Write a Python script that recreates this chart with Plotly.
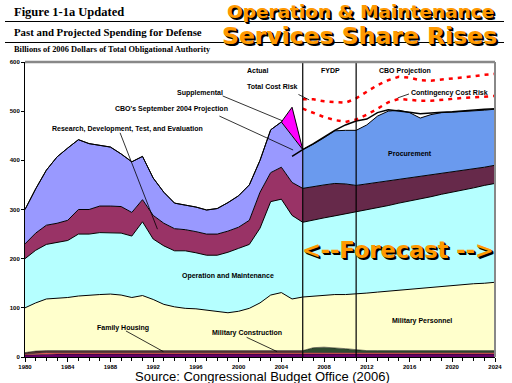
import plotly.graph_objects as go

years = list(range(1980, 2025))

other = [4, 5] + [6] * 43
family_housing = [2] + [3] * 44
military_construction = [3, 4, 4, 4, 4, 4, 4, 4, 4, 4,
                         4, 4, 4, 4, 4, 4, 4, 4, 4, 4,
                         4, 4, 4, 4, 4, 4, 4, 10, 11, 10,
                         8, 6, 4, 4, 4, 4, 4, 4, 4, 4,
                         4, 4, 4, 4, 4]
military_personnel = [91, 98, 105, 106, 108, 111, 113, 114, 115, 113,
                      108, 112, 104, 94, 89, 86, 85, 82, 79, 77,
                      80, 86, 97, 113, 118, 105, 109, 105, 106, 108,
                      110, 113, 117, 119, 121, 123, 125, 126, 128, 130,
                      132, 134, 136, 137, 139]
operation_maintenance = [100, 107, 111, 114, 116, 126, 124, 126, 125, 126,
                         125, 150, 123, 119, 114, 117, 114, 112, 115, 123,
                         128, 130, 152, 190, 190, 170, 152, 155, 157, 160,
                         164, 167, 169, 172, 174, 177, 179, 183, 185, 188,
                         190, 193, 195, 199, 201]
rdte = [30, 35, 39, 39, 41, 50, 50, 54, 54, 54,
        48, 45, 48, 46, 45, 43, 43, 43, 43, 43,
        43, 49, 73, 59, 65, 67, 69, 68, 67, 66,
        61, 54, 53, 51, 50, 48, 47, 45, 44, 42,
        41, 39, 38, 37, 37]
procurement = [70, 90, 112, 135, 147, 142, 134, 123, 120, 107,
               103, 88, 76, 63, 52, 50, 50, 49, 52, 58,
               64, 72, 65, 87, 92, 95, 79, 86, 96, 107,
               109, 112, 120, 135, 142, 141, 133, 119, 123, 124,
               122, 120, 118, 116, 114]

supp_years = [2004, 2005, 2006]
supplemental = [0, 58, 0]

cbo2004_years = list(range(2005, 2025))
cbo2004 = [408, 422, 434, 447, 461, 472, 480, 484, 497, 503,
           501, 498, 495, 497, 498, 499, 501, 502, 504, 505]

risk_years = list(range(2006, 2025))
total_cost_risk = [524, 524, 520, 518, 517, 526, 539, 553, 563, 570,
                   568, 563, 562, 564, 566, 569, 571, 574, 576]
contingency_cost_risk = [505, 497, 488, 482, 478, 483, 493, 505, 518, 525,
                         523, 521, 521, 523, 526, 527, 528, 530, 531]

x_ticks = list(range(1980, 2025, 4))
y_ticks = [0, 100, 200, 300, 400, 500, 600]

split = years.index(2006)

layers = [
    ("Other", other, "#660066", "#660066", 0.5),
    ("Family Housing", family_housing, "#FF6666", "#FF6666", 0.5),
    ("Military Construction", military_construction, "#553333", "#2f4a2f", 0.5),
    ("Military Personnel", military_personnel, "#FFFFCC", "#FFFFCC", 1),
    ("Operation and Maintenance", operation_maintenance, "#B5FFFF", "#B5FFFF", 1),
    ("RDT&E", rdte, "#993366", "#66294A", 1),
    ("Procurement", procurement, "#9999FF", "#6A9AEE", 1),
]

fig = go.Figure()
for grp, sl in (("pre", slice(0, split + 1)), ("post", slice(split, None))):
    for name, vals, c_pre, c_post, lw in layers:
        col = c_pre if grp == "pre" else c_post
        fig.add_trace(go.Scatter(
            x=years[sl], y=vals[sl], stackgroup=grp, mode="lines",
            line=dict(color="black", width=lw), fillcolor=col,
            name=name, showlegend=False, hoverinfo="skip"))
    if grp == "pre":
        fig.add_trace(go.Scatter(
            x=supp_years, y=supplemental, stackgroup=grp, mode="lines",
            line=dict(color="black", width=1), fillcolor="#FF00FF",
            name="Supplemental", showlegend=False))

fig.add_trace(go.Scatter(x=cbo2004_years, y=cbo2004, mode="lines",
                         line=dict(color="black", width=1.5), showlegend=False))
fig.add_trace(go.Scatter(x=risk_years, y=total_cost_risk, mode="lines",
                         line=dict(color="#FF0000", width=2.5, dash="4px,5px"), showlegend=False))
fig.add_trace(go.Scatter(x=risk_years, y=contingency_cost_risk, mode="lines",
                         line=dict(color="#FF0000", width=2.5, dash="4px,5px"), showlegend=False))

def PX(p):
    return (p - 25) / 470.0

def PY(p):
    return (357 - p) / 295.0

shapes = []
for xv in (2006, 2011):
    shapes.append(dict(type="line", xref="x", yref="paper", x0=xv, x1=xv, y0=0, y1=1,
                       line=dict(color="black", width=1.2), layer="above"))
shapes.append(dict(type="line", xref="paper", yref="paper", x0=0, x1=1, y0=1, y1=1,
                   line=dict(color="#888888", width=2.5), layer="above"))
shapes.append(dict(type="line", xref="paper", yref="paper", x0=1, x1=1, y0=0, y1=1,
                   line=dict(color="#888888", width=2), layer="above"))
for yy in (21.5, 42.5):
    shapes.append(dict(type="line", xref="paper", yref="paper", x0=PX(5), x1=PX(504),
                       y0=PY(yy), y1=PY(yy), line=dict(color="black", width=1.2)))
leaders = [
    (1998.5, 531, 2004.15, 480),
    (2005.6, 534, 2006.6, 523),
    (1998.2, 490, 2005.1, 421),
    (1988.9, 456, 1992.4, 260),
    (2014.9, 527, 2015.95, 535),
    (1989.45, 53, 1992.95, 11),
    (2000.75, 40, 2003.6, 11),
]
for x0, y0, x1, y1 in leaders:
    shapes.append(dict(type="line", xref="x", yref="y", x0=x0, y0=y0, x1=x1, y1=y1,
                       line=dict(color="black", width=0.8), layer="above"))

lab_font = dict(family="Liberation Sans, Arial", size=7, color="black")
labels = [
    ("Actual", 2001.8, 582),
    ("FYDP", 2008.6, 582),
    ("CBO Projection", 2015.6, 582),
    ("Total Cost Risk", 2003.2, 551),
    ("Supplemental", 1996.4, 537),
    ("CBO's September 2004 Projection", 1993.7, 504),
    ("Research, Development, Test, and Evaluation", 1989.6, 464),
    ("Contingency Cost Risk", 2019.7, 536),
    ("Procurement", 2016.0, 414),
    ("Operation and Maintenance", 1999.0, 165),
    ("Family Housing", 1989.2, 60),
    ("Military Construction", 2000.8, 49),
    ("Military Personnel", 2017.2, 74),
]
annotations = []
for t, xv, yv in labels:
    annotations.append(dict(text="<b>" + t + "</b>", x=xv, y=yv, xref="x", yref="y",
                            showarrow=False, font=lab_font, xanchor="center", yanchor="middle"))

serif = "Liberation Serif, Times New Roman"
annotations += [
    dict(text="<b>Figure 1-1a Updated</b>", x=PX(12), y=PY(12), xref="paper", yref="paper",
         showarrow=False, xanchor="left", yanchor="middle", font=dict(family=serif, size=12.5, color="black")),
    dict(text="<b>Past and Projected Spending for Defense</b>", x=PX(12), y=PY(32), xref="paper", yref="paper",
         showarrow=False, xanchor="left", yanchor="middle", font=dict(family=serif, size=10.8, color="black")),
    dict(text="<b>Billions of 2006 Dollars of Total Obligational Authority</b>", x=PX(12), y=PY(50),
         xref="paper", yref="paper", showarrow=False, xanchor="left", yanchor="middle",
         font=dict(family=serif, size=8.4, color="black")),
    dict(text="Source: Congressional Budget Office (2006)", x=PX(262), y=PY(376), xref="paper", yref="paper",
         showarrow=False, xanchor="center", yanchor="middle",
         font=dict(family="Liberation Sans, Arial", size=13, color="black")),
]

def shadow_text(text, cx, cy, size):
    out = []
    for dx, dy, col in ((2, -2, "black"), (1, -1, "black"), (0, 0, "#FF9900")):
        out.append(dict(text="<b>" + text + "</b>", x=PX(cx), y=PY(cy), xref="paper", yref="paper",
                        showarrow=False, xanchor="center", yanchor="middle", xshift=dx, yshift=dy,
                        font=dict(family="DejaVu Sans", size=size, color=col)))
    return out

annotations += shadow_text("Operation &amp; Maintenance", 360, 11, 18.5)
annotations += shadow_text("Services Share Rises", 359, 36, 23.5)
annotations += shadow_text("&lt;--Forecast --&gt;", 398, 250, 22.5)

tick_font = dict(family="Liberation Sans, Arial", size=6, color="black")
fig.update_layout(
    width=512, height=383,
    margin=dict(l=25, r=17, t=62, b=26),
    paper_bgcolor="white", plot_bgcolor="white",
    showlegend=False,
    shapes=shapes, annotations=annotations,
    xaxis=dict(range=[1980, 2024], tickvals=x_ticks, ticktext=["<b>%d</b>" % v for v in x_ticks],
               tickfont=tick_font, showgrid=False, zeroline=False, showline=True,
               linecolor="black", linewidth=1, ticks="outside", ticklen=4, tickcolor="black",
               minor=dict(dtick=1, ticks="outside", ticklen=3, tickcolor="black", showgrid=False),
               automargin=False, fixedrange=True),
    yaxis=dict(range=[0, 600], tickvals=y_ticks, ticktext=["<b>%d</b>" % v for v in y_ticks],
               tickfont=tick_font, showgrid=False, zeroline=False, showline=True,
               linecolor="black", linewidth=1, ticks="outside", ticklen=3, tickcolor="black",
               automargin=False, fixedrange=True),
)

fig.write_html("out.html", config={"displayModeBar": False},
               post_script="document.body.style.margin='0';document.body.style.overflow='hidden';")
